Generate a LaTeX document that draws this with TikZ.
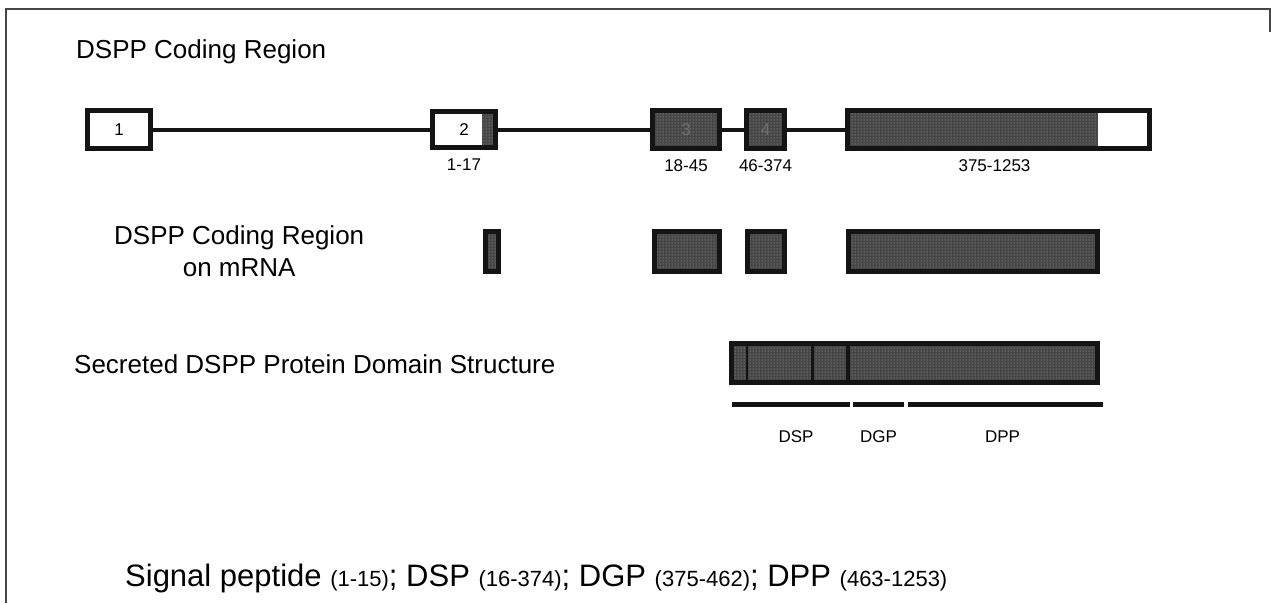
\documentclass[tikz,border=0pt]{standalone}
\usepackage{fontspec}
\setmainfont{Liberation Sans}
\usetikzlibrary{positioning, patterns}
\usepackage{xcolor}
\definecolor{inkdark}{RGB}{20, 20, 20}
\definecolor{shadebase}{RGB}{70, 70, 70}
\definecolor{shadedots}{RGB}{175, 175, 175}
\definecolor{framegray}{RGB}{70, 70, 70}

\begin{document}
\begin{tikzpicture}[
    x=1pt, y=-1pt,
    dotfill/.style={preaction={fill=shadebase}, pattern=dots, pattern color=shadedots},
    exon/.style={rectangle, draw=inkdark, line width=5pt, fill=white, inner sep=0pt, minimum height=38pt, font=\fontsize{17}{20}\selectfont},
    coding/.style={exon, dotfill, text=shadebase!60!shadedots},
    intron/.style={draw=inkdark, line width=4pt},
    rangelabel/.style={font=\fontsize{17}{20}\selectfont, inner sep=0pt},
    heading/.style={font=\fontsize{26}{32}\selectfont, anchor=west, inner sep=0pt, align=left},
    domainbar/.style={rectangle, fill=inkdark, minimum height=5pt, inner sep=0pt},
    divider/.style={draw=inkdark},
]
\useasboundingbox (0,0) rectangle (1271,603);

% Frame
\draw[framegray, line width=1.5pt] (6,603) -- (6,9) -- (1270,9) -- (1270,32);

% Gene
\node[heading] (genetitle) at (76, 52) {DSPP Coding Region};

\node[exon, minimum width=63pt] (ex1) at (119, 129.5) {1};
\node[exon, minimum width=63pt, minimum height=36pt, path picture={\fill[dotfill] ([xshift=-14pt]path picture bounding box.north east) rectangle (path picture bounding box.south east);}] (ex2) at (464, 129.5) {2\hspace{10pt}};
\node[coding, minimum width=67pt] (ex3) at (686, 129.5) {3};
\node[coding, minimum width=38pt] (ex4) at (765.5, 129.5) {4};
\node[exon, minimum width=302pt, path picture={\fill[dotfill] (path picture bounding box.north west) rectangle ([xshift=-51.5pt]path picture bounding box.south east);}] (ex5) at (998.5, 129.5) {};

\draw[intron] (ex1) -- (ex2);
\draw[intron] (ex2) -- (ex3);
\draw[intron] (ex3) -- (ex4);
\draw[intron] (ex4) -- (ex5);

\node[rangelabel, below=9pt of ex2] (r2) {1-17};
\node[rangelabel, below=8pt of ex3] (r3) {18-45};
\node[rangelabel, below=8pt of ex4] (r4) {46-374};
\node[rangelabel, below=8pt of ex5, xshift=-4pt] (r5) {375-1253};

% mRNA
\node[heading, align=center] (mrnatitle) at (114, 251) {DSPP Coding Region\\on mRNA};

\node[coding, minimum width=13pt, minimum height=40pt] (m2) at (492, 251.5) {};
\node[coding, minimum width=65pt, minimum height=40pt] (m3) at (687, 251.5) {};
\node[coding, minimum width=37pt, minimum height=40pt] (m4) at (766, 251.5) {};
\node[coding, minimum width=249pt, minimum height=40pt] (m5) at (973, 251.5) {};

% Protein
\node[heading] (prottitle) at (74, 364) {Secreted DSPP Protein Domain Structure};

\node[coding, minimum width=366pt, minimum height=39pt] (prot) at (914.5, 363) {};
\draw[divider, line width=2pt] ([xshift=18pt]prot.north west) -- ([xshift=18pt]prot.south west);
\draw[divider, line width=3pt] ([xshift=83pt]prot.north west) -- ([xshift=83pt]prot.south west);
\draw[divider, line width=4pt] ([xshift=119pt]prot.north west) -- ([xshift=119pt]prot.south west);

\node[domainbar, minimum width=118pt] (dspbar) at (791, 404) {};
\node[domainbar, minimum width=51pt] (dgpbar) at (878.5, 404) {};
\node[domainbar, minimum width=195pt] (dppbar) at (1005.5, 404) {};

\node[rangelabel, below=24pt of dspbar, xshift=5pt] (dsp) {DSP};
\node[rangelabel, below=24pt of dgpbar] (dgp) {DGP};
\node[rangelabel, below=24pt of dppbar, xshift=-3pt] (dpp) {DPP};

% Summary
\node[heading, font=\fontsize{31}{36}\selectfont] (summary) at (125, 578) {Signal peptide {\fontsize{22}{26}\selectfont(1-15)}; DSP {\fontsize{22}{26}\selectfont(16-374)}; DGP {\fontsize{22}{26}\selectfont(375-462)}; DPP {\fontsize{22}{26}\selectfont(463-1253)}};

\end{tikzpicture}
\end{document}
